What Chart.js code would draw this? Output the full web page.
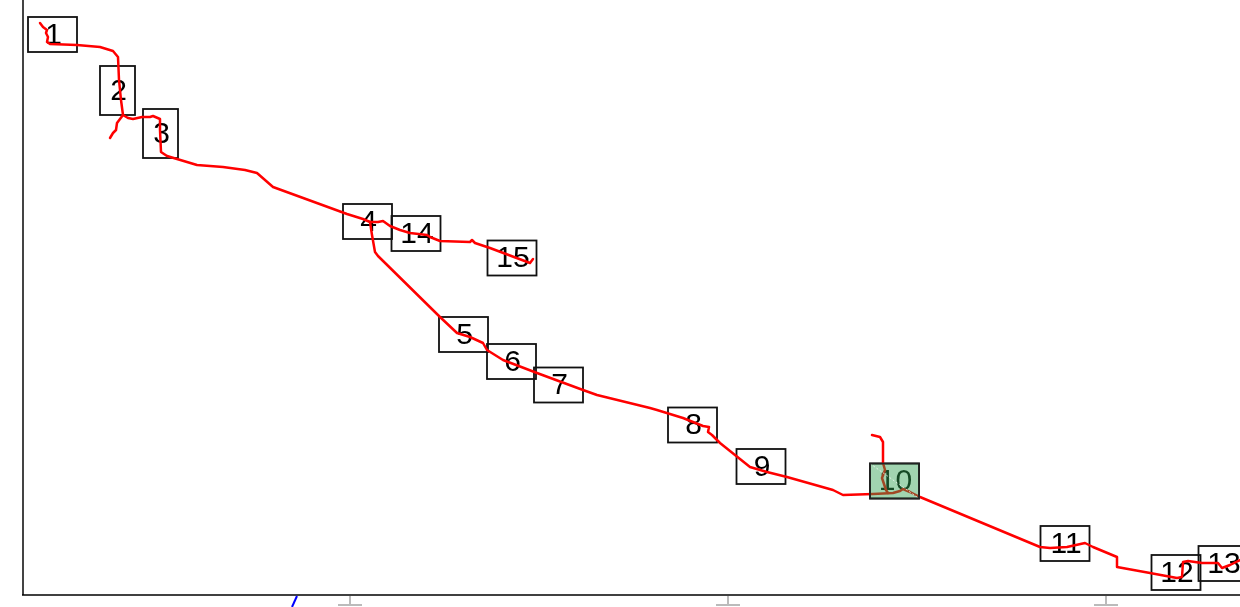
<!DOCTYPE html>
<html lang="en">

<head>
  <meta charset="UTF-8">
  <title>Rota</title>
  <script src="https://cdn.jsdelivr.net/npm/chart.js"></script>
  <style>
    body { margin: 0; background: #fff; }
    #wrap { width: 1240px; height: 607px; }
  </style>
</head>

<body>
  <div id="wrap">
    <canvas id="myChart" width="1240" height="607"></canvas>
  </div>
</body>

</html>
<script>

  // route traced in map units (x to the right, y downwards)
  const trunk = [
    [40, 23], [43, 27], [47, 30], [46, 33], [48, 37], [47, 42], [50, 44], [77, 45], [100, 47],
    [113, 51], [118, 57], [119, 80], [121, 100], [123, 115], [128, 118], [133, 119], [142, 117],
    [150, 117], [153, 116], [160, 119], [160, 130], [161, 152], [167, 156], [177, 159], [197, 165],
    [223, 167], [245, 170], [257, 173], [273, 187], [347, 214], [363, 219], [370, 222]
  ];
  const southRoute = [
    [370, 222], [372, 235], [375, 252], [378, 256], [440, 317], [457, 333], [470, 337], [483, 343],
    [487, 350], [503, 360], [537, 373], [583, 390], [597, 395], [650, 408], [657, 410], [683, 418],
    [703, 426], [709, 427], [708, 432], [712, 435], [720, 443], [750, 467], [767, 472], [787, 477],
    [833, 490], [843, 495], [873, 494], [893, 493], [900, 491], [903, 489], [910, 492], [920, 497],
    [1040, 547], [1050, 548], [1067, 547], [1085, 543], [1093, 547], [1117, 557], [1117, 567],
    [1150, 573], [1177, 578], [1182, 577], [1183, 562], [1188, 561], [1202, 563], [1218, 563],
    [1222, 568], [1230, 565], [1240, 560]
  ];
  const eastBranch = [
    [370, 222], [378, 222], [383, 221], [390, 226], [400, 230], [410, 233], [427, 235], [430, 237],
    [440, 241], [470, 242], [472, 240], [475, 243], [490, 248], [530, 263], [533, 259]
  ];
  const spurTwo = [[123, 115], [117, 123], [116, 130], [113, 133], [110, 138]];
  const spurTen = [[872, 435], [880, 437], [883, 442], [883, 463], [885, 470], [882, 478], [886, 490], [888, 493]];

  // stops (label, centre)
  const stopLabels = ['1', '2', '3', '4', '5', '6', '7', '8', '9', '10', '11', '12', '13', '14', '15'];
  const stopX = [52.5, 117.5, 160.5, 367.5, 463.5, 511.5, 558.5, 692.5, 761, 894.5, 1065, 1176, 1223, 416, 512];
  const stopY = [34.5, 90.5, 133.5, 221.5, 334.5, 361.5, 385, 425, 466.5, 481, 543.5, 572.5, 563.5, 233.5, 258];
  const tallStops = ['2', '3'];
  const currentStop = '10';

  const tickValues = [350, 728, 1106];
  const markerValue = 297;

  function toPoints(arr) {
    return arr.map(function (p) { return { x: p[0], y: p[1] }; });
  }

  function boxFor(chart, i) {
    var xs = chart.scales.x, ys = chart.scales.y;
    var cx = xs.getPixelForValue(stopX[i]);
    var cy = ys.getPixelForValue(stopY[i]);
    var tall = tallStops.indexOf(stopLabels[i]) >= 0;
    var w = tall ? 35 : 49, h = tall ? 49 : 35;
    return { cx: cx, cy: cy, x: cx - w / 2, y: cy - h / 2, w: w, h: h };
  }

  const stopsPlugin = {
    id: 'stops',
    beforeDatasetsDraw(chart) {
      const ctx = chart.ctx;
      ctx.save();
      ctx.font = '30px "Liberation Sans", Arial, sans-serif';
      ctx.textAlign = 'center';
      ctx.textBaseline = 'middle';
      for (var i = 0; i < stopLabels.length; i++) {
        var b = boxFor(chart, i);
        ctx.fillStyle = '#000';
        ctx.fillText(stopLabels[i], b.cx + 1, b.cy + 1);
        ctx.strokeStyle = '#111';
        ctx.lineWidth = 1.8;
        ctx.strokeRect(b.x, b.y, b.w, b.h);
      }
      ctx.restore();
    },
    afterDatasetsDraw(chart) {
      const ctx = chart.ctx;
      var i = stopLabels.indexOf(currentStop);
      var b = boxFor(chart, i);
      ctx.save();
      ctx.fillStyle = 'rgba(46, 160, 80, 0.45)';
      ctx.fillRect(b.x, b.y, b.w, b.h);
      ctx.strokeStyle = 'rgba(255,255,255,0.7)';
      ctx.lineWidth = 1;
      ctx.setLineDash([2, 2]);
      ctx.beginPath();
      ctx.moveTo(b.x, b.y);
      ctx.lineTo(b.x + b.w, b.y + b.h);
      ctx.stroke();
      ctx.setLineDash([]);
      ctx.strokeStyle = '#222';
      ctx.lineWidth = 1.8;
      ctx.strokeRect(b.x, b.y, b.w, b.h);
      ctx.restore();
    },
    afterDraw(chart) {
      const ctx = chart.ctx;
      const a = chart.chartArea;
      const xs = chart.scales.x;
      ctx.save();
      // axes
      ctx.strokeStyle = '#444';
      ctx.lineWidth = 2;
      ctx.beginPath();
      ctx.moveTo(a.left + 1, 0);
      ctx.lineTo(a.left + 1, a.bottom);
      ctx.stroke();
      ctx.strokeStyle = '#000';
      ctx.lineWidth = 1.5;
      ctx.beginPath();
      ctx.moveTo(a.left, a.bottom);
      ctx.lineTo(a.right, a.bottom);
      ctx.stroke();
      // ticks
      ctx.strokeStyle = '#bbb';
      ctx.lineWidth = 2;
      tickValues.forEach(function (v) {
        var px = Math.round(xs.getPixelForValue(v));
        ctx.beginPath();
        ctx.moveTo(px, a.bottom + 1);
        ctx.lineTo(px, a.bottom + 10);
        ctx.moveTo(px - 12, a.bottom + 10);
        ctx.lineTo(px + 12, a.bottom + 10);
        ctx.stroke();
      });
      // position marker
      var mx = xs.getPixelForValue(markerValue);
      ctx.strokeStyle = '#0000ff';
      ctx.lineWidth = 2;
      ctx.beginPath();
      ctx.moveTo(mx, a.bottom + 1);
      ctx.lineTo(mx - 5, chart.height);
      ctx.stroke();
      ctx.restore();
    }
  };

  function routeSet(arr) {
    return {
      data: toPoints(arr),
      showLine: true,
      borderColor: '#ff0000',
      borderWidth: 2.5,
      pointRadius: 0,
      tension: 0,
      borderJoinStyle: 'round',
      borderCapStyle: 'round'
    };
  }

  const ctx = document.getElementById('myChart').getContext('2d');
  const myChart = new Chart(ctx, {
    type: 'scatter',
    data: {
      datasets: [
        routeSet(trunk),
        routeSet(southRoute),
        routeSet(eastBranch),
        routeSet(spurTwo),
        routeSet(spurTen)
      ]
    },
    options: {
      responsive: false,
      animation: false,
      layout: { padding: { left: 22, right: 0, top: 0, bottom: 12 } },
      scales: {
        x: { type: 'linear', min: 22, max: 1240, display: false },
        y: { type: 'linear', min: 0, max: 595, reverse: true, display: false }
      },
      plugins: {
        legend: { display: false },
        tooltip: { enabled: false }
      }
    },
    plugins: [stopsPlugin]
  });

</script>
